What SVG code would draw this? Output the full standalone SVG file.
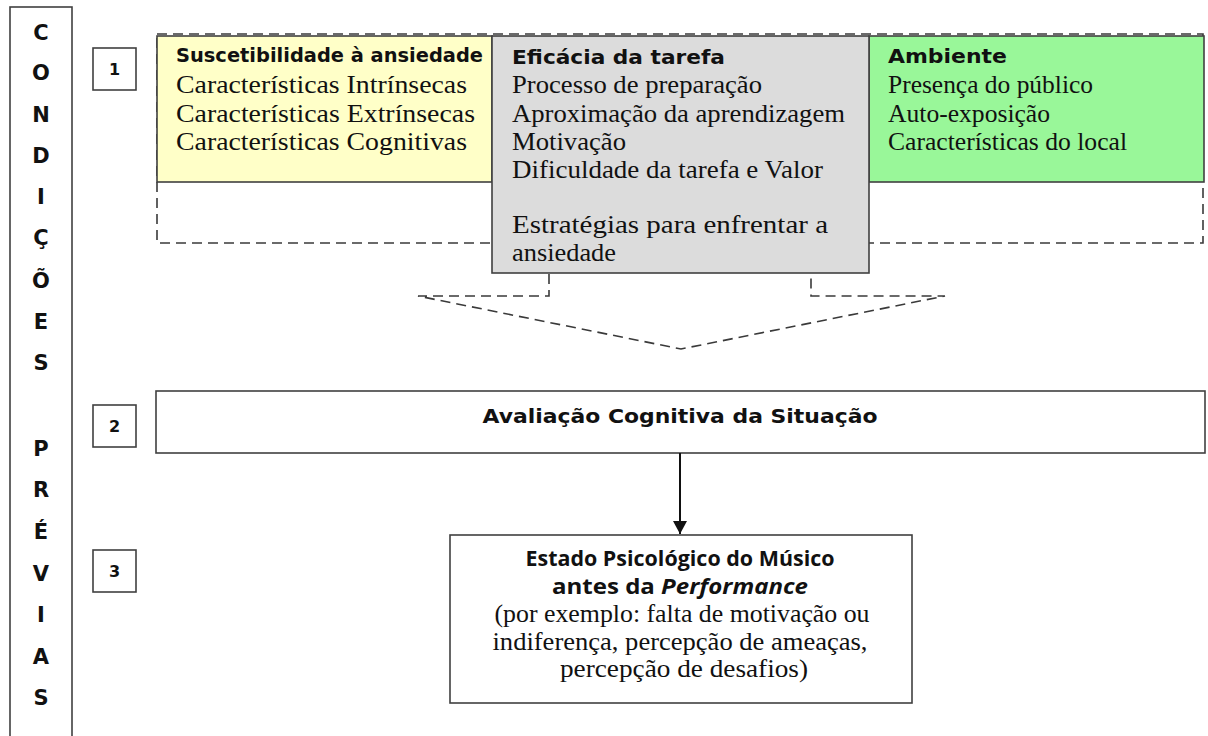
<svg xmlns="http://www.w3.org/2000/svg" width="1208" height="736" viewBox="0 0 1208 736">
<style>
.box{stroke:#404040;stroke-width:1.6}
.dash{fill:none;stroke:#3a3a3a;stroke-width:1.6;stroke-dasharray:10,6}
.side{font-family:"DejaVu Sans",Verdana,sans-serif;font-weight:bold;font-size:21px;fill:#111;text-anchor:middle}
.num{font-family:"DejaVu Sans",Verdana,sans-serif;font-weight:bold;font-size:16px;fill:#111;text-anchor:middle}
.ttl{font-family:"DejaVu Sans",Verdana,sans-serif;font-weight:bold;font-size:20px;fill:#111}
.ser{font-family:"Liberation Serif","Times New Roman",serif;font-size:25px;fill:#111}
.cb{font-family:"Open Sans","DejaVu Sans",sans-serif;font-weight:bold;font-size:22px;fill:#111;text-anchor:middle}
.sc{font-family:"Liberation Serif","Times New Roman",serif;font-size:25px;fill:#111;text-anchor:middle}
</style>
<defs>
<marker id="ah" markerWidth="14" markerHeight="14" refX="13" refY="7" orient="auto" markerUnits="userSpaceOnUse">
<path d="M0,0 L13,7 L0,14 Z" fill="#111"/>
</marker>
</defs>
<rect width="1208" height="736" fill="#fff"/>

<g id="side-label">
<rect x="10" y="7" width="62" height="740" fill="#fff" class="box"/>
<text class="side" x="41" y="40">C</text>
<text class="side" x="41" y="80">O</text>
<text class="side" x="41" y="122">N</text>
<text class="side" x="41" y="163">D</text>
<text class="side" x="41" y="204">I</text>
<text class="side" x="41" y="245">Ç</text>
<text class="side" x="41" y="288">Õ</text>
<text class="side" x="41" y="329">E</text>
<text class="side" x="41" y="370">S</text>
<text class="side" x="41" y="456">P</text>
<text class="side" x="41" y="497">R</text>
<text class="side" x="41" y="539">É</text>
<text class="side" x="41" y="581">V</text>
<text class="side" x="41" y="622">I</text>
<text class="side" x="41" y="664">A</text>
<text class="side" x="41" y="705">S</text>
</g>

<g id="num1"><rect x="93" y="48" width="43" height="42" fill="#fff" class="box"/><text class="num" x="114.5" y="75">1</text></g>
<g id="num2"><rect x="93" y="405" width="43" height="42" fill="#fff" class="box"/><text class="num" x="114.5" y="432">2</text></g>
<g id="num3"><rect x="93" y="550" width="43" height="42" fill="#fff" class="box"/><text class="num" x="114.5" y="577">3</text></g>

<g id="group1-frame">
<rect x="157" y="34" width="1046" height="209" class="dash"/>
</g>

<g id="suscetibilidade">
<rect x="157" y="36" width="335" height="146" fill="#FFFFC8" class="box"/>
<text class="ttl" x="176" y="62" textLength="307" lengthAdjust="spacingAndGlyphs">Suscetibilidade à ansiedade</text>
<text class="ser" x="176" y="93" textLength="291" lengthAdjust="spacingAndGlyphs">Características Intrínsecas</text>
<text class="ser" x="176" y="122" textLength="299" lengthAdjust="spacingAndGlyphs">Características Extrínsecas</text>
<text class="ser" x="176" y="150" textLength="291" lengthAdjust="spacingAndGlyphs">Características Cognitivas</text>
</g>

<g id="ambiente">
<rect x="869" y="36" width="335" height="146" fill="#99F799" class="box"/>
<text class="ttl" x="888" y="63" textLength="119" lengthAdjust="spacingAndGlyphs">Ambiente</text>
<text class="ser" x="888" y="93" textLength="205" lengthAdjust="spacingAndGlyphs">Presença do público</text>
<text class="ser" x="888" y="122" textLength="162" lengthAdjust="spacingAndGlyphs">Auto-exposição</text>
<text class="ser" x="888" y="150" textLength="239" lengthAdjust="spacingAndGlyphs">Características do local</text>
</g>

<g id="eficacia">
<rect x="492" y="36" width="377" height="237" fill="#DCDCDC" class="box"/>
<text class="ttl" x="512" y="64" textLength="213" lengthAdjust="spacingAndGlyphs">Eficácia da tarefa</text>
<text class="ser" x="512" y="93" textLength="250" lengthAdjust="spacingAndGlyphs">Processo de preparação</text>
<text class="ser" x="512" y="122" textLength="333" lengthAdjust="spacingAndGlyphs">Aproximação da aprendizagem</text>
<text class="ser" x="512" y="150" textLength="114" lengthAdjust="spacingAndGlyphs">Motivação</text>
<text class="ser" x="512" y="178" textLength="311" lengthAdjust="spacingAndGlyphs">Dificuldade da tarefa e Valor</text>
<text class="ser" x="512" y="233" textLength="316" lengthAdjust="spacingAndGlyphs">Estratégias para enfrentar a</text>
<text class="ser" x="512" y="261" textLength="104" lengthAdjust="spacingAndGlyphs">ansiedade</text>
</g>

<g id="avaliacao">
<rect x="156" y="391" width="1049" height="62" fill="#fff" class="box"/>
<text class="ttl" x="680" y="423" text-anchor="middle" textLength="395" lengthAdjust="spacingAndGlyphs">Avaliação Cognitiva da Situação</text>
</g>

<g id="estado">
<rect x="450" y="535" width="462" height="168" fill="#fff" class="box"/>
<text class="cb" x="680" y="566" textLength="309" lengthAdjust="spacingAndGlyphs">Estado Psicológico do Músico</text>
<text class="cb" x="680" y="594" textLength="256" lengthAdjust="spacingAndGlyphs">antes da <tspan font-style="italic">Performance</tspan></text>
<text class="sc" x="682" y="622" textLength="375" lengthAdjust="spacingAndGlyphs">(por exemplo: falta de motivação ou</text>
<text class="sc" x="680" y="650" textLength="375" lengthAdjust="spacingAndGlyphs">indiferença, percepção de ameaças,</text>
<text class="sc" x="684" y="677" textLength="248" lengthAdjust="spacingAndGlyphs">percepção de desafios)</text>
</g>

<g id="connectors">
<path class="dash" d="M549,274 V296 H418 L681,349 L945,296 H811 V274"/>
<line x1="680" y1="453" x2="680" y2="534" stroke="#111" stroke-width="2" marker-end="url(#ah)"/>
</g>
</svg>
